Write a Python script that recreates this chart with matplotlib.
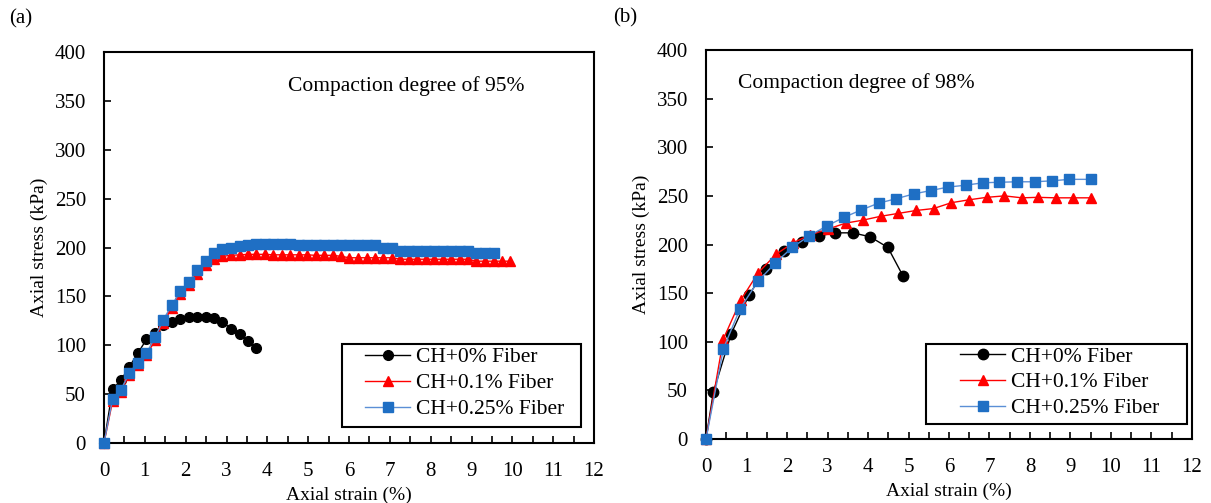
import matplotlib
matplotlib.use("Agg")
import matplotlib.pyplot as plt
from matplotlib.patches import Rectangle
from matplotlib.ticker import MultipleLocator

plt.rcParams['font.family'] = ['Liberation Serif', 'DejaVu Serif']

# panel (a): compaction degree 95%
strain_a = [0, 0.21, 0.41, 0.62, 0.83, 1.04, 1.25, 1.45, 1.66, 1.87, 2.08, 2.28,
            2.49, 2.70, 2.90, 3.11, 3.32, 3.52, 3.73, 3.94, 4.15, 4.35, 4.56, 4.77,
            4.98, 5.18, 5.39, 5.60, 5.80, 6.01, 6.22, 6.43, 6.63, 6.84, 7.05, 7.26,
            7.46, 7.67, 7.88, 8.08, 8.29, 8.50, 8.71, 8.91, 9.12, 9.33, 9.54, 9.74, 9.95]
stress_a_0 = [0, 55, 64, 78, 92, 106, 113, 121, 124, 127, 129, 129, 129, 128, 124,
              117, 111, 104, 97]
stress_a_01 = [0, 43, 52, 70, 80, 90, 105, 123, 138, 152, 162, 173, 182, 188, 191,
               192, 192.5, 193, 193, 193, 192.5, 192.5, 192.5, 192.5, 192.5, 192, 192,
               192, 191, 189.5, 189.5, 189.5, 189.5, 189.5, 189.5, 188, 188, 188, 188,
               188, 188, 188, 188, 188, 186, 186, 186, 186, 186]
stress_a_025 = [0, 45, 54, 72, 82, 92, 108, 126, 141, 155, 165, 177, 186, 194, 198,
                200, 202, 203, 203.5, 203.5, 203.5, 203.5, 203.5, 203, 203, 203, 203,
                203, 203, 203, 203, 203, 203, 200, 200, 196.5, 196.5, 196.5, 196.5,
                196.5, 196.5, 196.5, 196.5, 196.5, 194.5, 194.5, 194.5]

# panel (b): compaction degree 98%
strain_b_0 = [0, 0.18, 0.62, 1.06, 1.48, 1.93, 2.36, 2.80, 3.19, 3.62, 4.05, 4.49, 4.86]
stress_b_0 = [0, 48, 108, 148, 175, 193, 203, 209, 212, 212, 208, 197, 168]
strain_b_01 = [0, 0.43, 0.86, 1.29, 1.73, 2.16, 2.58, 3.02, 3.45, 3.87, 4.31, 4.75,
               5.19, 5.62, 6.06, 6.50, 6.93, 7.37, 7.80, 8.19, 8.63, 9.07, 9.51]
stress_b_01 = [0, 103, 143, 171, 190, 202, 210, 216, 222, 225, 229, 232, 235, 237,
               243, 246, 248.5, 250, 248, 248.5, 248, 248, 248]
strain_b_025 = [0, 0.43, 0.84, 1.28, 1.71, 2.13, 2.55, 2.98, 3.41, 3.83, 4.26, 4.69,
                5.13, 5.55, 5.97, 6.41, 6.85, 7.24, 7.69, 8.12, 8.55, 8.97, 9.51]
stress_b_025 = [0, 93, 134, 162, 181, 197, 209, 219, 228, 235.5, 242.5, 247, 252,
                255.5, 259, 261, 263.5, 264, 264.5, 264.5, 265.5, 267, 267]

labels = ['CH+0% Fiber', 'CH+0.1% Fiber', 'CH+0.25% Fiber']
blue = '#1f6fc4'
blue_line = '#5b8fd6'

fig = plt.figure(figsize=(12.11, 5.03), dpi=100)
ax_a = fig.add_axes([0.0859, 0.1193, 0.4046, 0.7773])
ax_b = fig.add_axes([0.583, 0.1272, 0.4013, 0.7734])


def style(ax):
    ax.set_xlim(0, 12)
    ax.set_ylim(0, 400)
    ax.xaxis.set_major_locator(MultipleLocator(1))
    ax.xaxis.set_minor_locator(MultipleLocator(0.5))
    ax.yaxis.set_major_locator(MultipleLocator(50))
    ax.tick_params(which='both', direction='in', labelsize=15, width=1.2, colors='black')
    ax.tick_params(axis='x', which='major', length=5, pad=14)
    ax.tick_params(axis='x', which='minor', length=5)
    ax.tick_params(axis='y', length=5, pad=13)
    for s in ax.spines.values():
        s.set_linewidth(1.5)
    ax.set_xlabel('Axial strain (%)', fontsize=14, labelpad=4)
    ax.set_ylabel('Axial stress (kPa)', fontsize=14, labelpad=5)


def draw(ax, xs, ys, ms, box, anchor):
    ax.plot(xs[0], ys[0], color='black', lw=1, marker='o', ms=ms,
            label=labels[0], clip_on=False, zorder=3)
    ax.plot(xs[1], ys[1], color='red', lw=1, marker='^', ms=ms,
            label=labels[1], clip_on=False, zorder=4)
    ax.plot(xs[2], ys[2], color=blue_line, lw=1, marker='s', ms=ms - 0.5,
            mfc=blue, mec=blue, label=labels[2], clip_on=False, zorder=5)
    # legend frame drawn as its own box, legend entries placed inside it
    ax.add_patch(Rectangle((box[0], box[1]), box[2] - box[0], box[3] - box[1],
                           transform=ax.transAxes, facecolor='white',
                           edgecolor='black', lw=1.5, zorder=6))
    leg = ax.legend(loc='upper left', bbox_to_anchor=anchor, fontsize=15.5,
                    frameon=False, handlelength=2.1, borderpad=0, borderaxespad=0,
                    labelspacing=0.27, handletextpad=0.25)
    leg.set_zorder(7)


draw(ax_a,
     [strain_a[:len(stress_a_0)], strain_a[:len(stress_a_01)], strain_a[:len(stress_a_025)]],
     [stress_a_0, stress_a_01, stress_a_025], 7,
     (0.486, 0.041, 0.973, 0.253), (0.533, 0.245))
draw(ax_b,
     [strain_b_0, strain_b_01, strain_b_025],
     [stress_b_0, stress_b_01, stress_b_025], 7.5,
     (0.453, 0.039, 0.99, 0.244), (0.523, 0.238))

style(ax_a)
style(ax_b)

ax_a.text(4.5, 365, 'Compaction degree of 95%', fontsize=15.5, va='center')
ax_b.text(0.8, 366, 'Compaction degree of 98%', fontsize=15.5, va='center')
fig.text(0.017, 0.962, '(a)', fontsize=15, va='center', ha='center')
fig.text(0.516, 0.965, '(b)', fontsize=15, va='center', ha='center')

fig.savefig('out.png', dpi=100)
